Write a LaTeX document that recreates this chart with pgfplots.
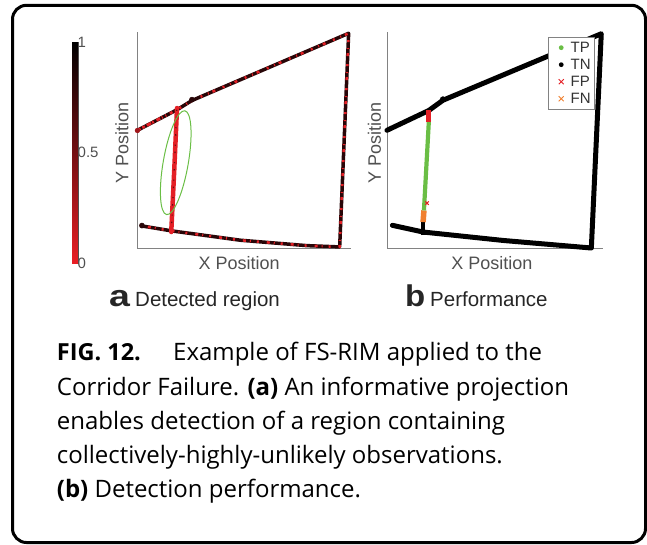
\documentclass[border=0pt]{standalone}
\usepackage{pgfplots}
\pgfplotsset{compat=1.18}
\usepackage{fontspec}
\setmainfont{Liberation Sans}
\newfontfamily\capfont{Open Sans}
\definecolor{cred}{RGB}{228,32,38}
\definecolor{cdark}{RGB}{40,6,8}
\definecolor{tpgreen}{RGB}{106,190,69}
\definecolor{fnorange}{RGB}{240,128,48}
\definecolor{labgray}{RGB}{80,80,80}
\definecolor{axgray}{RGB}{130,130,130}
\pgfplotsset{
  dotimg/.style={legend image code/.code={\path[draw=none, fill=none] (0pt,-3pt) rectangle (19pt,3pt); \fill[#1, draw=none] (10.5pt,0pt) circle (2.4pt);}},
  ximg/.style={legend image code/.code={\path[draw=none, fill=none] (0pt,-3pt) rectangle (19pt,3pt); \draw[#1, line width=0.9pt] (8pt,-2.5pt) -- (13pt,2.5pt) (8pt,2.5pt) -- (13pt,-2.5pt);}}
}
\begin{document}
\begin{tikzpicture}
\path[use as bounding box] (0pt,0pt) rectangle (647pt,-544pt);
\draw[line width=3pt, rounded corners=14pt] (12.5pt,-5.3pt) rectangle (645.5pt,-542.5pt);
\pgfplotsset{myax/.style={scale only axis, height=216pt,
  xmin=0, xmax=100, ymin=0, ymax=100,
  axis x line*=bottom, axis y line*=left, xtick=\empty, ytick=\empty,
  axis line style={axgray, line width=0.7pt, -}, clip=false,
  label style={font=\fontsize{18}{20}\selectfont, text=labgray},
  xlabel={X Position}, ylabel={Y Position}}}
% ---------- colour bar ----------
\begin{axis}[at={(72pt,-263pt)}, anchor=south west, scale only axis,
  width=6pt, height=221pt, xmin=0, xmax=1, ymin=0, ymax=1,
  xtick=\empty, ytick={0,0.5,1}, yticklabel pos=right,
  yticklabel style={font=\fontsize{15}{16}\selectfont, text=labgray, inner sep=1pt, xshift=-1.5pt,
    /pgf/number format/assume math mode=true},
  axis line style={draw=labgray, line width=0.8pt}, major tick length=1.5pt,
  tick style={labgray, line width=0.6pt},
  colormap={rk}{rgb255=(232,30,36) rgb255=(0,0,0)},
  point meta min=0, point meta max=1]
\addplot[patch, shader=interp, point meta=explicit]
  coordinates {(0,0) [0] (1,0) [0] (1,1) [1]
               (0,0) [0] (1,1) [1] (0,1) [1]};
\end{axis}
% ---------- panel a ----------
\begin{axis}[myax, width=214pt, at={(137pt,-248pt)}, anchor=south west,
  xlabel style={at={(axis description cs:0.477,-0.069)}, anchor=center},
  ylabel style={at={(axis description cs:-0.07,0.486)}, anchor=center}]
\addplot[no marks, line width=3.5pt, cdark, line join=round, line cap=round]
  coordinates {(0,54.4) (18.7,64.0) (25.7,68.3) (98.9,99.4) (94.7,0.5) (79.4,1.1) (48.3,3.6) (16.4,7.9) (2.3,10.2)};
\addplot[no marks, line width=2.5pt, cred, dash pattern=on 2pt off 6pt on 1pt off 4pt on 3pt off 8pt]
  coordinates {(0,54.4) (18.7,64.0) (25.7,68.3) (98.9,99.4) (94.7,0.5) (79.4,1.1) (48.3,3.6) (16.4,7.9) (2.3,10.2)};
\addplot[no marks, line width=2.8pt, cred, dash pattern=on 4pt off 2pt on 2pt off 3pt]
  coordinates {(0,54.4) (12,60.6)};
\addplot[no marks, line width=4.5pt, cred, line cap=round]
  coordinates {(18.7,64.8) (17.4,36) (16.0,7.4)};
\addplot[no marks, line width=1.2pt, cdark!70!cred, dash pattern=on 1pt off 6pt on 1.5pt off 9pt]
  coordinates {(18.6,64) (16.1,8)};
\addplot[only marks, mark=*, mark size=2.6pt, cdark] coordinates {(25.7,68.7) (2.3,10.4)};
\addplot[only marks, mark=*, mark size=2.4pt, cred!70!black] coordinates {(0.2,54.4)};
\draw[tpgreen, line width=1pt, rotate around={80:(axis cs:18.1,39.5)}]
  (axis cs:18.1,39.5) ellipse [x radius=52.7pt, y radius=12.5pt];
\end{axis}
% ---------- panel b ----------
\begin{axis}[myax, width=216pt, at={(387pt,-248pt)}, anchor=south west,
  xlabel style={at={(axis description cs:0.486,-0.069)}, anchor=center},
  ylabel style={at={(axis description cs:-0.058,0.486)}, anchor=center},
  legend style={at={(0.745,0.977)}, anchor=north west, draw=axgray, line width=0.6pt,
    font=\fontsize{15}{17}\selectfont, text=black!80, row sep=3.2pt,
    inner xsep=2.5pt, inner ysep=3.5pt, fill=white, nodes={inner sep=1pt}},
  legend cell align=left]
\addlegendimage{dotimg=tpgreen}\addlegendentry{TP}
\addlegendimage{dotimg=black}\addlegendentry{TN}
\addlegendimage{ximg=cred}\addlegendentry{FP}
\addlegendimage{ximg=fnorange}\addlegendentry{FN}
\addplot[no marks, line width=5pt, black, line join=round, line cap=round, forget plot]
  coordinates {(0,54.5) (19.4,63.7) (25.9,68.4) (99.2,99.2) (94.6,0) (53.7,3.5) (16.7,7.4) (2.5,10.5)};
\addplot[only marks, mark=*, mark size=2.8pt, black, forget plot] coordinates {(25.9,68.8)};
\addplot[no marks, line width=4.8pt, black, forget plot] coordinates {(16.7,6.0) (16.7,12.0)};
\addplot[no marks, line width=5.5pt, fnorange, forget plot] coordinates {(16.7,12) (17.1,17.4)};
\addplot[no marks, line width=4.2pt, tpgreen, forget plot] coordinates {(17.1,17.4) (19.4,59.1)};
\addplot[no marks, line width=5.5pt, cred, forget plot] coordinates {(19.2,58.5) (19.2,63.7)};
\addplot[only marks, mark=x, mark size=2.5pt, line width=1pt, cred, forget plot] coordinates {(18.5,20.8)};
\end{axis}
% ---------- panel labels ----------
\node[anchor=base west, inner sep=0, text=black!85] at (109pt,-306pt)
  {\fontsize{30}{30}\selectfont\bfseries\scalebox{1.25}[1]{a}};
\node[anchor=base west, inner sep=0, text=black!85, font=\fontsize{20.5}{22}\selectfont] at (135pt,-306pt) {Detected region};
\node[anchor=base west, inner sep=0, text=black!85] at (405pt,-306pt)
  {\fontsize{30}{30}\selectfont\bfseries\scalebox{1.1}[1]{b}};
\node[anchor=base west, inner sep=0, text=black!85, font=\fontsize{20.5}{22}\selectfont] at (430pt,-306pt) {Performance};
% ---------- caption ----------
\begin{scope}[every node/.style={anchor=base west, inner sep=0, font=\capfont\fontsize{24}{26}\selectfont}]
\node at (56.7pt,-360.7pt) {\fontsize{23.5}{26}\selectfont\textbf{FIG. 12.}};
\node at (173pt,-360.7pt) {Example of FS-RIM applied to the};
\node at (56.7pt,-395pt) {Corridor Failure. \textbf{(a)} An informative projection};
\node at (56.7pt,-429.3pt) {enables detection of a region containing};
\node at (56.7pt,-463.6pt) {collectively-highly-unlikely observations.};
\node at (56.7pt,-497.9pt) {\textbf{(b)} Detection performance.};
\end{scope}
\end{tikzpicture}
\end{document}
